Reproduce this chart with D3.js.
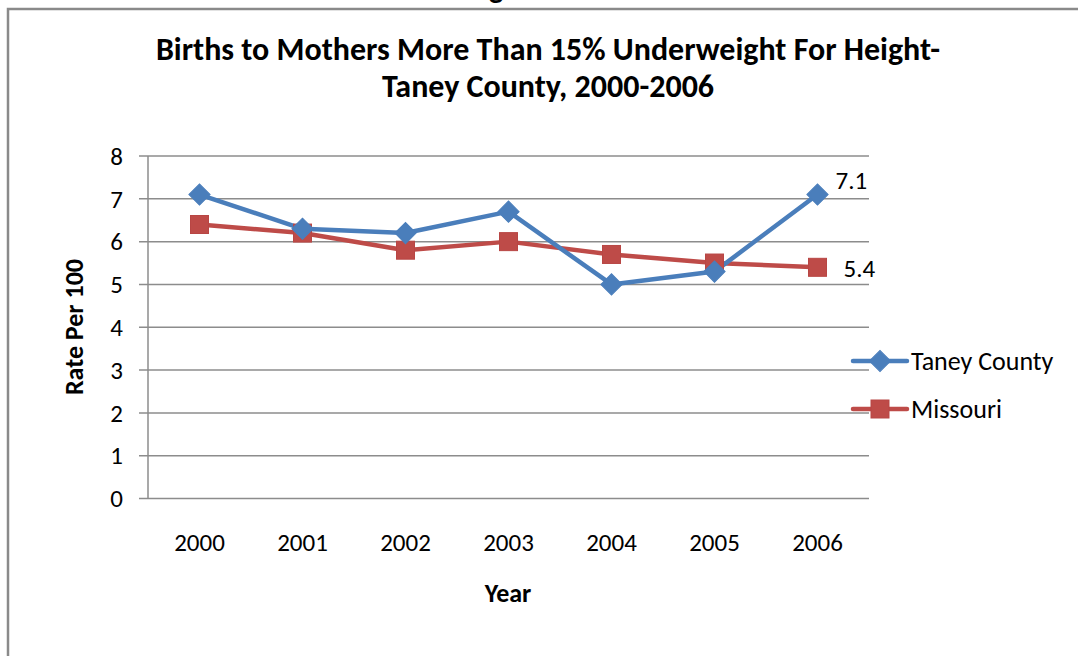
<!DOCTYPE html>
<html><head><meta charset="utf-8">
<script src="https://cdn.jsdelivr.net/npm/d3@7"></script>
<style>
body{margin:0;background:#fff;}
svg{display:block;font-family:Carlito,Lato,"Open Sans",sans-serif;}
</style></head><body>
<svg id="c" width="1078" height="656"></svg>
<script>
const years = ["2000","2001","2002","2003","2004","2005","2006"];
const taney = [7.1, 6.3, 6.2, 6.7, 5.0, 5.3, 7.1];
const missouri = [6.4, 6.2, 5.8, 6.0, 5.7, 5.5, 5.4];
const yTicks = [0,1,2,3,4,5,6,7,8];
const seriesNames = ["Taney County","Missouri"];
const titleLines = ["Births to Mothers More Than 15% Underweight For Height-","Taney County, 2000-2006"];

const svg = d3.select("#c");
const m = {left:148, right:869, top:156, bottom:498.5};

// outer border (left + top)
svg.append("path").attr("d",`M8,656 L8,9 L1078,9`).attr("fill","none").attr("stroke","#8a8a8a").attr("stroke-width",2.5);
// cut-off heading fragment at the very top (as in the reference)
svg.append("text").attr("x",496).attr("y",-2).attr("text-anchor","middle").attr("font-weight","bold").attr("font-size",30).text("g");

const x = d3.scalePoint().domain(years).range([m.left, m.right]).padding(0.5);
const y = d3.scaleLinear().domain([0,8]).range([m.bottom, m.top]);

// gridlines
svg.append("g").selectAll("line").data(yTicks).join("line")
  .attr("x1",m.left-9).attr("x2",m.right).attr("y1",d=>y(d)).attr("y2",d=>y(d))
  .attr("stroke","#8c8c8c").attr("stroke-width",1.5);
// y axis line
svg.append("line").attr("x1",m.left).attr("x2",m.left).attr("y1",m.top).attr("y2",m.bottom)
  .attr("stroke","#8c8c8c").attr("stroke-width",1.5);

// y tick labels
svg.append("g").selectAll("text").data(yTicks).join("text")
  .attr("x",123).attr("y",d=>y(d)).attr("dy","0.35em").attr("text-anchor","end")
  .attr("font-size",25).attr("fill","#000").text(d=>d);
// x tick labels
svg.append("g").selectAll("text").data(years).join("text")
  .attr("x",d=>x(d)).attr("y",551).attr("text-anchor","middle")
  .attr("font-size",25).attr("fill","#000").text(d=>d);

// titles
svg.append("g").selectAll("text").data(titleLines).join("text")
  .attr("x",548).attr("y",(d,i)=>60+i*37).attr("text-anchor","middle")
  .attr("font-size",32).attr("font-weight","bold").text(d=>d);
svg.append("text").attr("x",508).attr("y",602).attr("text-anchor","middle")
  .attr("font-size",26).attr("font-weight","bold").text("Year");
svg.append("text").attr("transform","translate(83,327) rotate(-90)").attr("text-anchor","middle")
  .attr("font-size",26).attr("font-weight","bold").text("Rate Per 100");

const colors = ["#4a7ebb","#be4b48"];
const data = [taney, missouri];
const line = d3.line().x((d,i)=>x(years[i])).y(d=>y(d));

function marker(g, k, cx, cy){
  if(k===0){
    g.append("rect").attr("x",cx-7.5).attr("y",cy-7.5).attr("width",15).attr("height",15)
      .attr("transform",`rotate(45,${cx},${cy})`).attr("fill",colors[0]).attr("stroke",colors[0]).attr("stroke-width",1);
  } else {
    g.append("rect").attr("x",cx-9).attr("y",cy-9).attr("width",18).attr("height",18)
      .attr("fill",colors[1]).attr("stroke","#b84644").attr("stroke-width",1);
  }
}

[1,0].forEach(k=>{
  svg.append("path").datum(data[k]).attr("d",line).attr("fill","none")
    .attr("stroke",colors[k]).attr("stroke-width",4.5).attr("stroke-linejoin","round");
});
[1,0].forEach(k=>{
  const g = svg.append("g");
  data[k].forEach((v,i)=>marker(g,k,x(years[i]),y(v)));
});

// end labels
svg.append("text").attr("x",x(years[6])+18).attr("y",y(taney[6])-14).attr("font-size",25).attr("dy","0.35em").text(taney[6].toFixed(1));
svg.append("text").attr("x",x(years[6])+26).attr("y",y(missouri[6])+1).attr("font-size",25).attr("dy","0.35em").text(missouri[6].toFixed(1));

// legend
const leg = svg.append("g");
seriesNames.forEach((n,k)=>{
  const ly = 361 + k*48;
  leg.append("line").attr("x1",853).attr("x2",907).attr("y1",ly).attr("y2",ly)
    .attr("stroke",colors[k]).attr("stroke-width",4.5).attr("stroke-linecap","round");
  marker(leg,k,880,ly);
  leg.append("text").attr("x",911).attr("y",ly).attr("dy","0.35em").attr("font-size",26).text(n);
});
</script>
</body></html>
